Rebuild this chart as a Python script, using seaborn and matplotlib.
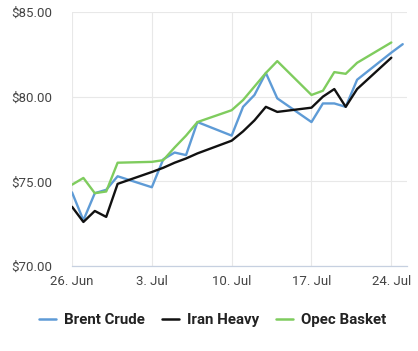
import matplotlib
matplotlib.use("Agg")
import matplotlib.pyplot as plt
import matplotlib.dates as mdates
import seaborn as sns
import pandas as pd
import numpy as np

# ---- data ----
days = ["2023-06-26", "2023-06-27", "2023-06-28", "2023-06-29", "2023-06-30",
        "2023-07-03", "2023-07-04", "2023-07-05", "2023-07-06", "2023-07-07",
        "2023-07-10", "2023-07-11", "2023-07-12", "2023-07-13", "2023-07-14",
        "2023-07-17", "2023-07-18", "2023-07-19", "2023-07-20", "2023-07-21",
        "2023-07-24"]
brent_days = days + ["2023-07-25"]

brent = [74.35, 72.7, 74.3, 74.5, 75.3,
         74.65, 76.3, 76.7, 76.55, 78.5,
         77.7, 79.4, 80.1, 81.4, 79.9,
         78.5, 79.6, 79.6, 79.4, 81.0,
         82.6, 83.1]
iran_heavy = [73.5, 72.6, 73.25, 72.9, 74.85,
              75.55, 75.8, 76.1, 76.35, 76.65,
              77.4, 77.95, 78.6, 79.4, 79.1,
              79.35, 80.0, 80.45, 79.4, 80.45,
              82.3]
opec_basket = [74.8, 75.2, 74.3, 74.4, 76.1,
               76.15, 76.25, 77.0, 77.7, 78.5,
               79.2, 79.8, 80.6, 81.4, 82.1,
               80.1, 80.35, 81.45, 81.35, 82.0,
               83.2]

series_names = ["Brent Crude", "Iran Heavy", "Opec Basket"]
series_colors = ["#5e9bd6", "#111111", "#7fcc5e"]

y_ticks = [70, 75, 80, 85]
y_tick_labels = ["$70.00", "$75.00", "$80.00", "$85.00"]
x_ticks = ["2023-06-26", "2023-07-03", "2023-07-10", "2023-07-17", "2023-07-24"]
x_tick_labels = ["26. Jun", "3. Jul", "10. Jul", "17. Jul", "24. Jul"]

df = pd.concat([
    pd.DataFrame({"date": pd.to_datetime(brent_days), "price": brent, "series": series_names[0]}),
    pd.DataFrame({"date": pd.to_datetime(days), "price": iran_heavy, "series": series_names[1]}),
    pd.DataFrame({"date": pd.to_datetime(days), "price": opec_basket, "series": series_names[2]}),
], ignore_index=True)

# ---- plot ----
sns.set_style("white")
plt.rcParams["font.family"] = ["Roboto", "DejaVu Sans"]

fig = plt.figure(figsize=(4.18, 3.51), dpi=100)
ax = fig.add_axes([72 / 418, 1 - 266 / 351, (407 - 72) / 418, (266 - 12) / 351])

sns.lineplot(data=df, x="date", y="price", hue="series", hue_order=series_names,
             palette=series_colors, linewidth=1.7, ax=ax, legend=False, sort=False)

ax.set_ylim(70, 85)
ax.set_xlim(pd.Timestamp("2023-06-26"), pd.Timestamp("2023-07-25 09:00"))
ax.set_yticks(y_ticks)
ax.set_yticklabels(y_tick_labels)
ax.set_xticks(pd.to_datetime(x_ticks))
ax.set_xticklabels(x_tick_labels)
ax.set_xlabel("")
ax.set_ylabel("")

ax.grid(True, color="#e8e8e8", linewidth=0.8)
ax.set_axisbelow(True)
for s in ["top", "right", "left"]:
    ax.spines[s].set_visible(False)
ax.spines["bottom"].set_color("#c6d0e0")
ax.spines["bottom"].set_linewidth(0.9)

ax.tick_params(axis="y", length=0, pad=14, labelsize=9.5, labelcolor="#444444")
ax.tick_params(axis="x", length=5, width=0.9, color="#c6d0e0", pad=1.5,
               labelsize=9.5, labelcolor="#444444")

handles = [plt.Line2D([], [], color=c, linewidth=1.8) for c in series_colors]
leg = fig.legend(handles, series_names, loc="center", bbox_to_anchor=(212.5 / 418, 1 - 320 / 351),
                 ncol=3, frameon=False, handlelength=1.15, handletextpad=0.5,
                 columnspacing=1.15, prop={"weight": "bold", "size": 10.8})
for t in leg.get_texts():
    t.set_color("#222222")

fig.savefig("out.png", dpi=100)
